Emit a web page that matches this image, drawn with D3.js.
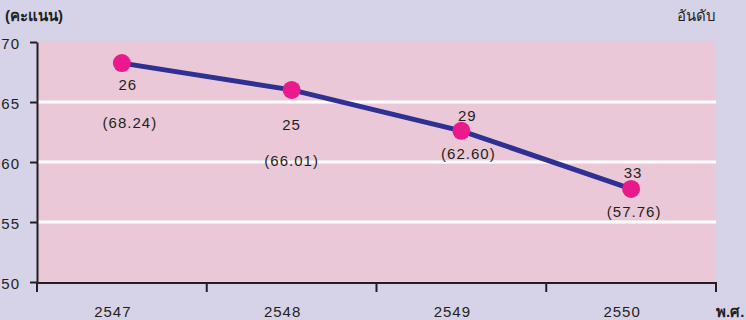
<!DOCTYPE html>
<html>
<head>
<meta charset="utf-8">
<script src="https://cdn.jsdelivr.net/npm/d3@7"></script>
<style>
  html, body { margin: 0; padding: 0; background: #d6d3e8; }
  svg { display: block; }
  text { font-family: "Liberation Sans", Arial, sans-serif; fill: #231f20; }
</style>
</head>
<body>
<svg id="chart" width="746" height="320"></svg>
<script>
// Scores and rankings by Buddhist-era year
const years = ["2547", "2548", "2549", "2550"];
const scores = [68.24, 66.01, 62.60, 57.76];
const ranks = [26, 25, 29, 33];
const yTicks = [50, 55, 60, 65, 70];

// Label placement relative to each point: [rank dx, rank dy, score dx, score dy]
const labelOffsets = [
  [6, 21, 8, 59],
  [0, 35, 0, 71],
  [6, -15, 7, 23],
  [2, -16, 3, 23]
];

const svg = d3.select("#chart");
const plotL = 37, plotR = 716, plotT = 42, plotB = 282;

const x = d3.scaleBand().domain(years).range([plotL, plotR]).padding(0);
const y = d3.scaleLinear().domain([50, 70]).range([plotB, plotT]);

// Plot background
svg.append("rect")
  .attr("x", plotL).attr("y", plotT - 1)
  .attr("width", plotR - plotL).attr("height", plotB - plotT + 1)
  .attr("fill", "#ebc8d8");

// White gridlines
svg.append("g")
  .selectAll("line")
  .data(yTicks.filter(d => d > 50 && d < 70))
  .join("line")
  .attr("x1", plotL).attr("x2", plotR)
  .attr("y1", d => y(d)).attr("y2", d => y(d))
  .attr("stroke", "#ffffff").attr("stroke-width", 3);

// Y axis
const yAxis = svg.append("g")
  .attr("transform", `translate(${plotL},0)`)
  .call(d3.axisLeft(y).tickValues(yTicks).tickSize(7).tickSizeOuter(0).tickPadding(10));
yAxis.select(".domain").attr("stroke", "#231f20").attr("stroke-width", 2);
yAxis.selectAll(".tick line").attr("stroke", "#231f20").attr("stroke-width", 2);
yAxis.selectAll(".tick text")
  .attr("font-size", 15).attr("fill", "#231f20")
  .attr("font-family", "Liberation Sans, Arial, sans-serif")
  .attr("letter-spacing", 1)
  .attr("dy", "0.45em");

// X axis: ticks at band boundaries
const xg = svg.append("g").attr("transform", `translate(0,${plotB + 1})`);
xg.append("line")
  .attr("x1", plotL).attr("x2", plotR)
  .attr("y1", 0).attr("y2", 0)
  .attr("stroke", "#231f20").attr("stroke-width", 2);
const boundaries = years.map(d => x(d)).concat([x(years[years.length - 1]) + x.bandwidth()]);
xg.selectAll("line.tick")
  .data(boundaries)
  .join("line")
  .attr("class", "tick")
  .attr("x1", d => d).attr("x2", d => d)
  .attr("y1", -1).attr("y2", 9)
  .attr("stroke", "#231f20").attr("stroke-width", 2);
xg.selectAll("text")
  .data(years)
  .join("text")
  .attr("x", d => x(d) + x.bandwidth() / 2 - 9)
  .attr("y", 34)
  .attr("text-anchor", "middle")
  .attr("font-size", 15)
  .attr("letter-spacing", 1)
  .text(d => d);

// Axis titles
svg.append("text")
  .attr("x", 5).attr("y", 21)
  .attr("font-size", 15).attr("font-weight", "bold")
  .text("(คะแนน)");
svg.append("text")
  .attr("x", 716).attr("y", 21)
  .attr("text-anchor", "end")
  .attr("font-size", 15)
  .text("อันดับ");
svg.append("text")
  .attr("x", 716).attr("y", 317)
  .attr("font-size", 15).attr("font-weight", "bold")
  .text("พ.ศ.");

// Line and points
const pts = years.map((d, i) => ({ year: d, score: scores[i], rank: ranks[i], i }));
const cx = d => x(d.year) + x.bandwidth() / 2;

svg.append("path")
  .datum(pts)
  .attr("fill", "none")
  .attr("stroke", "#2e3192")
  .attr("stroke-width", 5)
  .attr("d", d3.line().x(cx).y(d => y(d.score)));

svg.append("g")
  .selectAll("circle")
  .data(pts)
  .join("circle")
  .attr("cx", cx)
  .attr("cy", d => y(d.score))
  .attr("r", 9)
  .attr("fill", "#ea1a8c");

// Rank and score labels
const lbl = svg.append("g").attr("font-size", 15).attr("text-anchor", "middle");
lbl.selectAll("text.rank")
  .data(pts)
  .join("text")
  .attr("class", "rank")
  .attr("x", d => cx(d) + labelOffsets[d.i][0])
  .attr("y", d => y(d.score) + labelOffsets[d.i][1])
  .attr("dy", "0.36em")
  .attr("letter-spacing", 1)
  .text(d => d.rank);
lbl.selectAll("text.score")
  .data(pts)
  .join("text")
  .attr("class", "score")
  .attr("x", d => cx(d) + labelOffsets[d.i][2])
  .attr("y", d => y(d.score) + labelOffsets[d.i][3])
  .attr("dy", "0.36em")
  .attr("letter-spacing", 1)
  .text(d => `(${d.score.toFixed(2)})`);
</script>
</body>
</html>
